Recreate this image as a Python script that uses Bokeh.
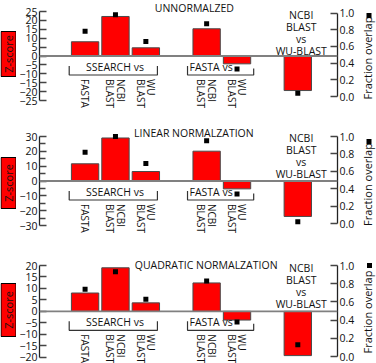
import math
from bokeh.plotting import figure
from bokeh.models import Range1d, LinearAxis, FixedTicker, Span, NumeralTickFormatter
from bokeh.layouts import column, row
from bokeh.embed import file_html
from bokeh.resources import INLINE
from bokeh.core.properties import value

# ---------------- data ----------------
categories = ["FASTA", "NCBI\nBLAST", "WU\nBLAST", "NCBI\nBLAST", "WU\nBLAST", ""]
group_labels = ["SSEARCH vs", "FASTA vs", "NCBI\nBLAST\nvs\nWU-BLAST"]
panel_titles = ["UNNORMALZED", "LINEAR NORMALZATION", "QUADRATIC NORMALZATION"]

z_unnormalized = [8.0, 22.2, 4.6, 15.3, -4.4, -19.4]
z_linear = [11.6, 29.0, 6.4, 20.1, -5.3, -23.9]
z_quadratic = [8.0, 19.0, 3.7, 12.4, -3.8, -19.3]

overlap_unnormalized = [0.78, 0.98, 0.66, 0.87, 0.33, 0.04]
overlap_linear = [0.82, 1.00, 0.69, 0.95, 0.34, 0.02]
overlap_quadratic = [0.74, 0.93, 0.63, 0.83, 0.38, 0.13]

z_ticks_unnormalized = [-25, -20, -15, -10, -5, 0, 5, 10, 15, 20, 25]
z_ticks_linear = [-30, -20, -10, 0, 10, 20, 30]
z_minor_linear = [-25, -15, -5, 5, 15, 25]
z_ticks_quadratic = [-20, -15, -10, -5, 0, 5, 10, 15, 20]
overlap_ticks = [0.0, 0.2, 0.4, 0.6, 0.8, 1.0]

y_axis_label = "Z-score"
y2_axis_label = "Fraction overlap"

# ---------------- layout ----------------
LW, MW, RW = 16, 342, 18          # left box strip, main plot, right label strip
FL = 17                            # main frame left border (frame x = 33)
FRB = 21                           # main frame right border (frame x = 337)
REF_L, REF_R = LW + FL, LW + MW - FRB
FONT = value("Open Sans")
FS = "10.5px"
TXT = "#111111"
slots = [1, 2, 3, 5, 6, 8]


def xd(r):
    return 1 + (r - 79.5) / 31


def yrange(m, H):
    (va, pa), (vb, pb) = m
    ppu = (pb - pa) / (va - vb)
    end = va + pa / ppu
    return Range1d(start=end - H / ppu, end=end)


def zero_px(m):
    (va, pa), (vb, pb) = m
    return pa + va * (pb - pa) / (va - vb)


panels = [
    dict(H=120, title=panel_titles[0], z=z_unnormalized, ov=overlap_unnormalized,
         zt=z_ticks_unnormalized, zm=[], zmap=((25, 11), (-25, 100)),
         omap=((1.0, 12.5), (0.0, 96)), tpos=(191, 7), nv=32.5,
         zbox=(31, 76), fy=57.5, sq=(10.5, 15)),
    dict(H=120, title=panel_titles[1], z=z_linear, ov=overlap_linear,
         zt=z_ticks_linear, zm=z_minor_linear, zmap=((30, 16), (-30, 105)),
         omap=((1.0, 16), (0.0, 103)), tpos=(190.5, 12.5), nv=35.75,
         zbox=(37, 88), fy=64, sq=(10.5, 21)),
    dict(H=123, title=panel_titles[2], z=z_quadratic, ov=overlap_quadratic,
         zt=z_ticks_quadratic, zm=[], zmap=((20, 25), (-20, 116.7)),
         omap=((1.0, 25), (0.0, 116)), tpos=(203, 24), nv=45.75,
         zbox=(43, 96), fy=71.5, sq=(11, 25)),
]


def strip(w, H):
    s = figure(width=w, height=H, x_range=Range1d(0, w), y_range=Range1d(H, 0),
               toolbar_location=None, output_backend="svg",
               x_axis_location=None, y_axis_location=None,
               min_border_left=0, min_border_right=0, min_border_top=0, min_border_bottom=0)
    s.outline_line_color = None
    s.xgrid.visible = False
    s.ygrid.visible = False
    return s


rows = []
for P in panels:
    H = P["H"]
    # ---- left strip: Z-score box
    ls = strip(LW, H)
    t, b = P["zbox"]
    ls.quad(left=[0.5], right=[LW - 0.5], top=[t], bottom=[b], fill_color="#ff0000",
            line_color="black", line_width=1)
    ls.text(x=[LW / 2], y=[(t + b) / 2], text=[y_axis_label], angle=math.pi / 2,
            text_align="center", text_baseline="middle", text_font=FONT,
            text_font_size="11px", text_color=TXT)

    # ---- right strip: fraction overlap label + legend marker
    rs = strip(RW, H)
    rs.text(x=[9], y=[P["fy"]], text=[y2_axis_label], angle=math.pi / 2,
            text_align="center", text_baseline="middle", text_font=FONT,
            text_font_size="11px", text_color=TXT)
    rs.scatter(x=[P["sq"][0]], y=[P["sq"][1]], marker="square", size=5,
               fill_color="black", line_color=None)

    # ---- main plot
    p = figure(width=MW, height=H, x_range=Range1d(xd(REF_L), xd(REF_R)),
               y_range=yrange(P["zmap"], H), toolbar_location=None, output_backend="svg",
               x_axis_location=None, y_axis_location=None,
               min_border_left=FL, min_border_right=FRB, min_border_top=0, min_border_bottom=0)
    p.outline_line_color = None
    p.xgrid.visible = False
    p.ygrid.visible = False
    p.extra_y_ranges = {"ov": yrange(P["omap"], H), "px": Range1d(start=H, end=0)}
    p.extra_x_ranges = {"px": Range1d(start=REF_L, end=REF_R)}

    la = LinearAxis(ticker=FixedTicker(ticks=P["zt"], minor_ticks=P["zm"]),
                    bounds=(min(P["zt"]), max(P["zt"])))
    ra = LinearAxis(y_range_name="ov", ticker=FixedTicker(ticks=overlap_ticks, minor_ticks=[]),
                    bounds=(0, 1), formatter=NumeralTickFormatter(format="0.0"))
    for ax in (la, ra):
        ax.major_tick_in = 7
        ax.major_tick_out = 0
        ax.minor_tick_in = 6
        ax.minor_tick_out = 0
        ax.axis_line_color = "#222222"
        ax.axis_line_width = 1.3
        ax.major_tick_line_color = "#444444"
        ax.major_tick_line_width = 1.3
        ax.minor_tick_line_color = "#444444"
        ax.minor_tick_line_width = 1.3
        ax.major_label_text_font = "Open Sans"
        ax.major_label_text_font_size = FS
        ax.major_label_text_color = TXT
        ax.major_label_standoff = 2
    p.add_layout(la, "left")
    p.add_layout(ra, "right")

    p.add_layout(Span(location=0, dimension="width", line_color="#808080", line_width=1.8))

    p.vbar(x=slots, top=P["z"], bottom=0, width=0.9, fill_color="#ff0000",
           line_color="#4a4a4a", line_width=1)
    p.scatter(x=slots, y=P["ov"], y_range_name="ov", marker="square", size=5,
              fill_color="black", line_color=None)

    z0 = zero_px(P["zmap"])
    # category labels (rotated)
    p.text(x=slots[:5], y=[z0 + 23] * 5, text=categories[:5], y_range_name="px",
           angle=-math.pi / 2, text_align="left", text_baseline="middle",
           text_font=FONT, text_font_size="10px", text_color=TXT, text_line_height=0.74)
    # group brackets
    p.multi_line(xs=[[63.3, 63.3, 153.3, 153.3], [184, 184, 251.5, 251.5]],
                 ys=[[z0 + 10, z0 + 19, z0 + 19, z0 + 10],
                     [z0 + 10, z0 + 19, z0 + 19, z0 + 12.5]],
                 x_range_name="px", y_range_name="px", line_color="#333333", line_width=1.2)
    p.text(x=[110], y=[z0 + 11], text=[group_labels[0]], x_range_name="px", y_range_name="px",
           text_align="center", text_baseline="middle", text_font=FONT, text_font_size=FS,
           text_color=TXT)
    p.text(x=[186], y=[z0 + 11], text=[group_labels[1]], x_range_name="px", y_range_name="px",
           text_align="left", text_baseline="middle", text_font=FONT, text_font_size=FS,
           text_color=TXT)
    p.text(x=[300], y=[P["nv"]], text=[group_labels[2]], x_range_name="px", y_range_name="px",
           text_align="center", text_baseline="middle", text_font=FONT, text_font_size=FS,
           text_color=TXT, text_line_height=0.86)
    # panel title
    p.text(x=[P["tpos"][0]], y=[P["tpos"][1]], text=[P["title"]], x_range_name="px",
           y_range_name="px", text_align="center", text_baseline="middle", text_font=FONT,
           text_font_size=FS, text_color=TXT)

    rows.append(row(ls, p, rs, spacing=0))

layout = column(*rows, spacing=0)
open("out.html", "w").write(file_html(layout, INLINE))
